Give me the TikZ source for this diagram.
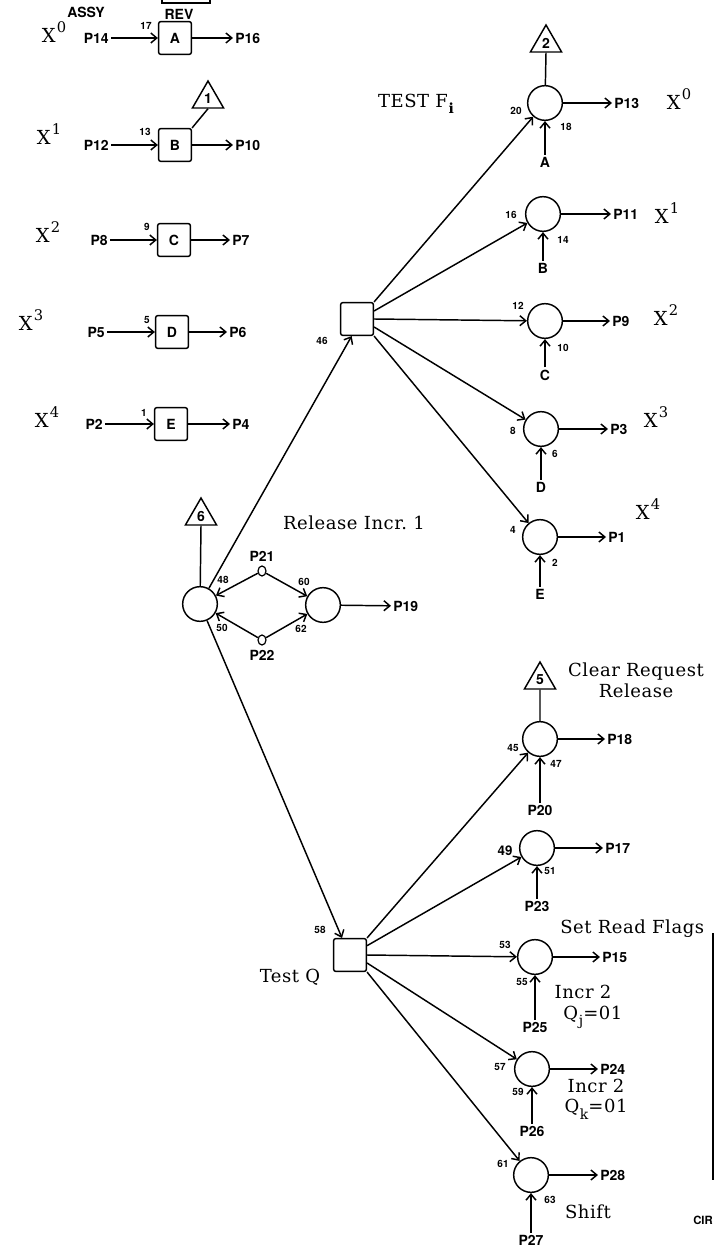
\documentclass[tikz,border=0pt]{standalone}
\usepackage{fontspec}
\setsansfont{TeX Gyre Heros}
\newfontfamily\notefont[LetterSpace=3]{DejaVu Serif}
\usetikzlibrary{arrows.meta,shapes.geometric}
\newcommand{\lblfont}{\sffamily\bfseries\fontsize{10.5}{12}\selectfont}
\newcommand{\tagfont}{\sffamily\bfseries\fontsize{7.5}{8}\selectfont}
\newcommand{\notesize}{\notefont\fontsize{13.5}{15.5}\selectfont}
\newcommand{\xsize}{\notefont\fontsize{14.5}{16}\selectfont}
\newcommand{\xsup}[1]{X\kern1pt\raisebox{.55em}{\fontsize{11}{12}\selectfont #1}}
\newcommand{\nsub}[1]{\kern.5pt\raisebox{-.35em}{\fontsize{10.5}{11}\selectfont #1}}
\tikzset{
 wire/.style={line width=1.1pt},
 flow/.style={wire,-{Straight Barb[length=4.5pt,width=7.5pt,line width=1.1pt]}},
 gate/.style={draw,line width=1.1pt,rounded corners=1.5pt,minimum size=24.5pt,inner sep=0,font=\lblfont},
 junction/.style={circle,draw,line width=1.1pt,minimum size=26pt,inner sep=0},
 flag/.style={regular polygon,regular polygon sides=3,draw,line width=1.1pt,minimum size=27pt,inner sep=0,font=\lblfont},
 hole/.style={ellipse,draw,line width=.9pt,minimum width=6pt,minimum height=7.5pt,inner sep=0},
 port/.style={font=\lblfont,inner sep=1.5pt},
 tag/.style={font=\tagfont,inner sep=0},
 note/.style={font=\notesize,inner sep=0,align=center},
 xnote/.style={font=\xsize,inner sep=0}
}
\begin{document}
\begin{tikzpicture}[x=0.75pt,y=-0.75pt]
\useasboundingbox (0,0) rectangle (716,1251);
% assembly register, left column
\draw[wire] (162,-4) -- (162,3) -- (210,3) -- (210,-4);
\node[port] (assy) at (86,12) {ASSY};
\node[port] (rev) at (179,14) {REV};
\node[gate] (A) at (175,38) {A};
\node[gate] (B) at (175,145) {B};
\node[gate] (C) at (174,240) {C};
\node[gate] (D) at (172,332) {D};
\node[gate] (E) at (171,424) {E};
\node[port,anchor=east] (p14) at (111,38) {P14};
\node[port,anchor=east] (p12) at (111,145) {P12};
\node[port,anchor=east] (p8) at (110,240) {P8};
\node[port,anchor=east] (p5) at (107,332) {P5};
\node[port,anchor=east] (p2) at (105,424) {P2};
\node[port,anchor=west] (p16) at (233,38) {P16};
\node[port,anchor=west] (p10) at (233,145) {P10};
\node[port,anchor=west] (p7) at (230,240) {P7};
\node[port,anchor=west] (p6) at (227,332) {P6};
\node[port,anchor=west] (p4) at (230,424) {P4};
\node[tag] (t17) at (146,26) {17};
\node[tag] (t13) at (145,132) {13};
\node[tag] (t9) at (147,227) {9};
\node[tag] (t5) at (147,320) {5};
\node[tag] (t1) at (144,413) {1};
\node[xnote] (xa0) at (54,32) {\xsup{0}};
\node[xnote] (xa1) at (49,134) {\xsup{1}};
\node[xnote] (xa2) at (48,232) {\xsup{2}};
\node[xnote] (xa3) at (31,320) {\xsup{3}};
\node[xnote] (xa4) at (47,417) {\xsup{4}};
\node[flag] (f1) at (208,99) {1};
\draw[wire] (f1.south) -- (B.north east);
\draw[flow] (p14) -- (A);
\draw[flow] (p12) -- (B);
\draw[flow] (p8) -- (C);
\draw[flow] (p5) -- (D);
\draw[flow] (p2) -- (E);
\draw[flow] (A) -- (p16);
\draw[flow] (B) -- (p10);
\draw[flow] (C) -- (p7);
\draw[flow] (D) -- (p6);
\draw[flow] (E) -- (p4);
% release
\node[junction] (R1) at (200,604) {};
\node[junction] (R2) at (323,605) {};
\node[flag] (f6) at (201,516) {6};
\draw[wire] (f6.south) -- (R1);
\node[hole] (h21) at (262,571) {};
\node[hole] (h22) at (262,640) {};
\node[port] (p21) at (262,556) {P21};
\node[port] (p22) at (262,655) {P22};
\node[port,anchor=west] (p19) at (391,606) {P19};
\draw[flow] (h21) -- (R1);
\draw[flow] (h21) -- (R2);
\draw[flow] (h22) -- (R1);
\draw[flow] (h22) -- (R2);
\draw[flow] (R2) -- (p19);
\node[tag] (t48) at (223,580) {48};
\node[tag] (t60) at (304,582) {60};
\node[tag] (t50) at (222,628) {50};
\node[tag] (t62) at (301,629) {62};
\node[note] (rel) at (354,523) {Release Incr.\ 1};
% test F
\node[gate] (T1) at (357,319) {};
\node[tag] (t46) at (322,341) {46};
\draw[flow] (R1) -- ([xshift=-4pt]T1.south);
\node[note] (testf) at (416,104) {TEST F\nsub{\bfseries i}};
\node[junction] (F0) at (545,103) {};
\node[junction] (F1) at (543,214) {};
\node[junction] (F2) at (545,321) {};
\node[junction] (F3) at (541,429) {};
\node[junction] (F4) at (540,537) {};
\node[flag] (f2) at (546,43) {2};
\draw[wire] (f2.south) -- (F0);
\draw[flow] (T1.north east) -- (F0);
\draw[flow] ([yshift=6pt]T1.east) -- (F1);
\draw[flow] (T1.east) -- (F2);
\draw[flow] ([yshift=-6pt]T1.east) -- (F3);
\draw[flow] (T1.south east) -- (F4);
\node[port] (inA) at (545,162) {A};
\node[port] (inB) at (543,268) {B};
\node[port] (inC) at (545,375) {C};
\node[port] (inD) at (541,487) {D};
\node[port] (inE) at (540,594) {E};
\draw[flow] (inA) -- (F0);
\draw[flow] (inB) -- (F1);
\draw[flow] (inC) -- (F2);
\draw[flow] (inD) -- (F3);
\draw[flow] (inE) -- (F4);
\node[port,anchor=west] (p13) at (612,103) {P13};
\node[port,anchor=west] (p11) at (611,214) {P11};
\node[port,anchor=west] (p9) at (610,321) {P9};
\node[port,anchor=west] (p3) at (608,429) {P3};
\node[port,anchor=west] (p1) at (606,537) {P1};
\draw[flow] (F0) -- (p13);
\draw[flow] (F1) -- (p11);
\draw[flow] (F2) -- (p9);
\draw[flow] (F3) -- (p3);
\draw[flow] (F4) -- (p1);
\node[tag] (t20) at (516,111) {20};
\node[tag] (t18) at (566,127) {18};
\node[tag] (t16) at (511,215) {16};
\node[tag] (t14) at (563,240) {14};
\node[tag] (t12) at (518,306) {12};
\node[tag] (t10) at (563,348) {10};
\node[tag] (t8) at (513,431) {8};
\node[tag] (t6) at (555,454) {6};
\node[tag] (t4) at (513,530) {4};
\node[tag] (t2) at (555,563) {2};
\node[xnote] (xb0) at (679,99) {\xsup{0}};
\node[xnote] (xb1) at (667,213) {\xsup{1}};
\node[xnote] (xb2) at (666,315) {\xsup{2}};
\node[xnote] (xb3) at (656,417) {\xsup{3}};
\node[xnote] (xb4) at (648,509) {\xsup{4}};
% test Q
\node[gate] (T2) at (350,955) {};
\node[tag] (t58) at (320,930) {58};
\node[note] (testq) at (290,977) {Test Q};
\draw[flow] (R1) -- ([xshift=-6pt]T2.north);
\node[junction] (Q0) at (540,739) {};
\node[junction] (Q1) at (537,848) {};
\node[junction] (Q2) at (535,957) {};
\node[junction] (Q3) at (532,1069) {};
\node[junction] (Q4) at (531,1175) {};
\node[flag] (f5) at (540,680) {5};
\draw[wire] (f5.south) -- (Q0);
\draw[flow] (T2.north east) -- (Q0);
\draw[flow] ([yshift=7pt]T2.east) -- (Q1);
\draw[flow] (T2.east) -- (Q2);
\draw[flow] ([yshift=-6pt]T2.east) -- (Q3);
\draw[flow] (T2.south east) -- (Q4);
\node[port] (p20) at (540,810) {P20};
\node[port] (p23) at (537,906) {P23};
\node[port] (p25) at (535,1027) {P25};
\node[port] (p26) at (532,1131) {P26};
\node[port] (p27) at (531,1240) {P27};
\draw[flow] (p20) -- (Q0);
\draw[flow] (p23) -- (Q1);
\draw[flow] (p25) -- (Q2);
\draw[flow] (p26) -- (Q3);
\draw[flow] (p27) -- (Q4);
\node[port,anchor=west] (p18) at (605,739) {P18};
\node[port,anchor=west] (p17) at (603,848) {P17};
\node[port,anchor=west] (p15) at (600,957) {P15};
\node[port,anchor=west] (p24) at (598,1069) {P24};
\node[port,anchor=west] (p28) at (598,1175) {P28};
\draw[flow] (Q0) -- (p18);
\draw[flow] (Q1) -- (p17);
\draw[flow] (Q2) -- (p15);
\draw[flow] (Q3) -- (p24);
\draw[flow] (Q4) -- (p28);
\node[tag] (t45) at (513,748) {45};
\node[tag] (t47) at (556,764) {47};
\node[tag,font=\sffamily\bfseries\fontsize{10}{11}\selectfont] (t49) at (505,851) {49};
\node[tag] (t51) at (550,871) {51};
\node[tag] (t53) at (505,945) {53};
\node[tag] (t55) at (522,982) {55};
\node[tag] (t57) at (500,1067) {57};
\node[tag] (t59) at (518,1092) {59};
\node[tag] (t61) at (503,1164) {61};
\node[tag] (t63) at (550,1200) {63};
\node[note] (clr) at (636,680) {Clear Request\\Release};
\node[note,anchor=west] (setrd) at (560,929) {Set Read Flags};
\node[note] (incj) at (583,1007) {Incr 2\\\hspace*{1.1em}Q\nsub{j}=01};
\node[note] (inck) at (596,1099) {Incr 2\\Q\nsub{k}=01};
\node[note] (shift) at (588,1212) {Shift};
% sheet edge
\draw[line width=1.3pt] (713,933) -- (713,1180);
\node[port,anchor=west] (circ) at (691,1220) {\fontsize{8.5}{9}\selectfont CIR};
\end{tikzpicture}
\end{document}
